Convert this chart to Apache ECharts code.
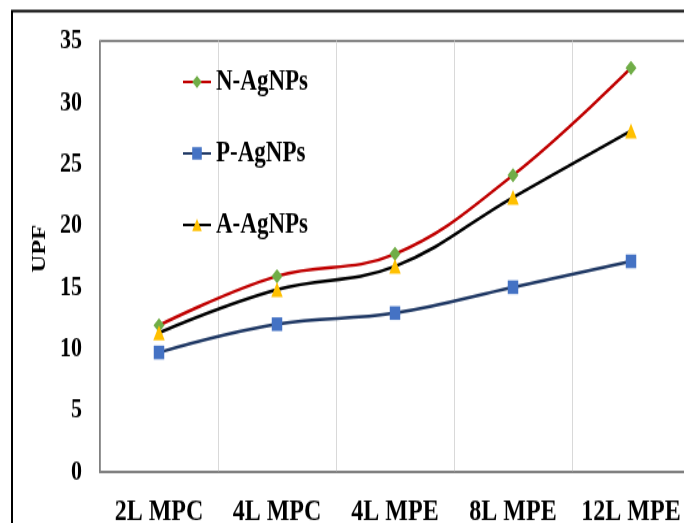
<!DOCTYPE html>
<html>
<head>
<meta charset="utf-8">
<script src="https://cdn.jsdelivr.net/npm/echarts@6/dist/echarts.min.js"></script>
<style>
html,body{margin:0;padding:0;background:#fff;width:684px;height:523px;}
#wrap{width:684px;height:523px;overflow:hidden;position:relative;}
#c{position:absolute;left:0;top:0;width:684px;height:402px;transform:scaleY(1.3);transform-origin:0 0;}
</style>
</head>
<body>
<div id="wrap"><div id="c"></div></div>
<script>
const categories = ['2L MPC', '4L MPC', '4L MPE', '8L MPE', '12L MPE'];
const nAgNPs = [11.9, 15.9, 17.7, 24.1, 32.8];
const pAgNPs = [9.7, 12.0, 12.9, 15.0, 17.1];
const aAgNPs = [11.3, 14.8, 16.7, 22.3, 27.7];
const yTicks = [0, 5, 10, 15, 20, 25, 30, 35];

const FONT = "'Liberation Serif', 'Times New Roman', serif";
const chart = echarts.init(document.getElementById('c'), null, {renderer: 'canvas'});

chart.setOption({
  animation: false,
  backgroundColor: '#fff',
  graphic: [{
    type: 'rect',
    shape: {x: 12, y: 8.5, width: 720, height: 420},
    style: {fill: 'none', stroke: '#000', lineWidth: 2},
    silent: true, z: 100
  }],
  grid: {
    left: 100, right: -6, top: 31.5, bottom: 39,
    show: true, borderColor: '#595959', borderWidth: 1.5,
    containLabel: false, outerBoundsMode: 'none'
  },
  legend: {
    orient: 'vertical',
    left: 182, top: 51, padding: 0,
    itemWidth: 28, itemHeight: 12, itemGap: 31,
    textStyle: {fontFamily: FONT, fontWeight: 'bold', fontSize: 23, color: '#000', lineHeight: 24},
    data: ['N-AgNPs', 'P-AgNPs', 'A-AgNPs']
  },
  xAxis: {
    type: 'category',
    data: categories,
    boundaryGap: true,
    axisLine: {lineStyle: {color: '#808080', width: 1.5}},
    axisTick: {show: false},
    splitLine: {show: true, lineStyle: {color: '#d9d9d9', width: 1}},
    axisLabel: {fontFamily: FONT, fontWeight: 'bold', fontSize: 24, color: '#000', margin: 19, interval: 0}
  },
  yAxis: {
    type: 'value',
    min: yTicks[0], max: yTicks[yTicks.length - 1], interval: 5,
    name: 'UPF', nameLocation: 'middle', nameRotate: 90, nameGap: 46,
    nameTextStyle: {fontFamily: FONT, fontWeight: 'bold', fontSize: 19, color: '#000', padding: [0, 0, 0, 12]},
    axisLine: {show: true, lineStyle: {color: '#808080', width: 1.5}},
    axisTick: {show: false},
    splitLine: {show: false},
    axisLabel: {fontFamily: FONT, fontWeight: 'bold', fontSize: 22, color: '#000', margin: 18}
  },
  series: [
    {
      name: 'N-AgNPs', type: 'line', data: nAgNPs, smooth: 0.4,
      symbol: 'diamond', symbolSize: 11,
      lineStyle: {color: '#C00000', width: 2.5},
      itemStyle: {color: '#70AD47', borderWidth: 0}
    },
    {
      name: 'P-AgNPs', type: 'line', data: pAgNPs, smooth: 0.4,
      symbol: 'rect', symbolSize: 10.5,
      lineStyle: {color: '#1F3864', width: 2.5},
      itemStyle: {color: '#4472C4', borderWidth: 0}
    },
    {
      name: 'A-AgNPs', type: 'line', data: aAgNPs, smooth: 0.4,
      symbol: 'triangle', symbolSize: 11.5,
      lineStyle: {color: '#000000', width: 2.5},
      itemStyle: {color: '#FFC000', borderWidth: 0}
    }
  ]
});
</script>
</body>
</html>
